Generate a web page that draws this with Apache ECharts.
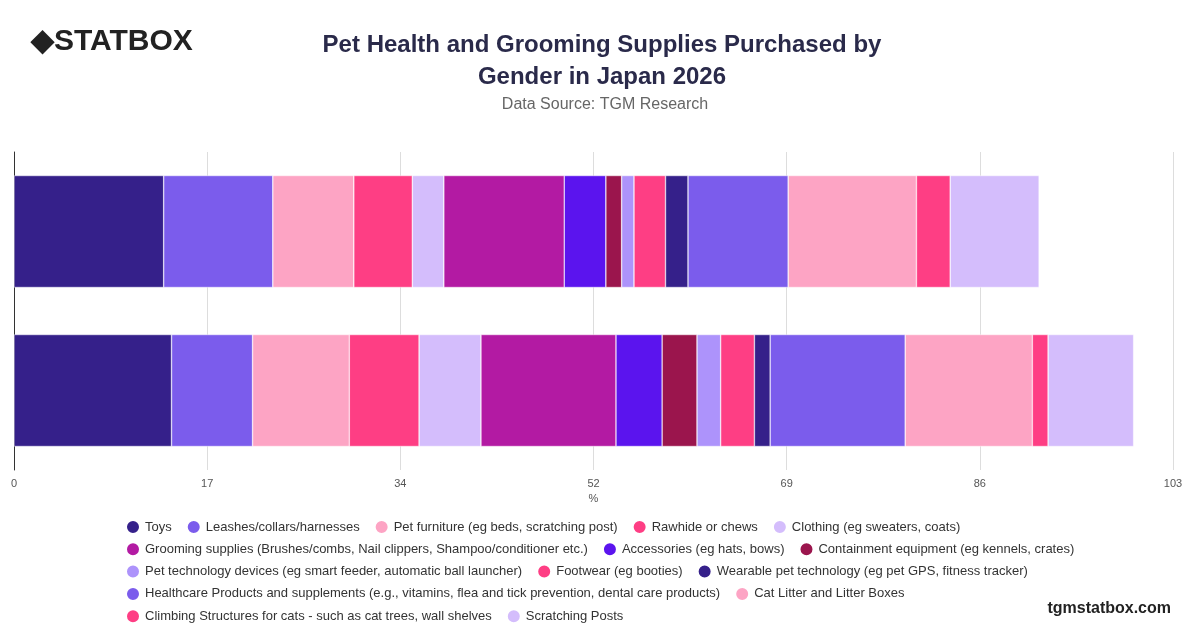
<!DOCTYPE html>
<html>
<head>
<meta charset="utf-8">
<script src="https://cdn.jsdelivr.net/npm/echarts@6/dist/echarts.min.js"></script>
<style>html,body{margin:0;padding:0;background:#fff}#main{width:1200px;height:628px}</style>
</head>
<body>
<div id="main"></div>
<script>
// two bars (top / bottom), no labels shown on the axis
var groups = ['Male', 'Female'];
var seriesNames = [
    'Toys', 'Leashes/collars/harnesses', 'Pet furniture (eg beds, scratching post)', 'Rawhide or chews',
    'Clothing (eg sweaters, coats)', 'Grooming supplies (Brushes/combs, Nail clippers, Shampoo/conditioner etc.)',
    'Accessories (eg hats, bows)', 'Containment equipment (eg kennels, crates)',
    'Pet technology devices (eg smart feeder, automatic ball launcher)', 'Footwear (eg booties)',
    'Wearable pet technology (eg pet GPS, fitness tracker)',
    'Healthcare Products and supplements (e.g., vitamins, flea and tick prevention, dental care products)',
    'Cat Litter and Litter Boxes', 'Climbing Structures for cats - such as cat trees, wall shelves', 'Scratching Posts'
];
var valuesTop    = [13.3, 9.7, 7.2, 5.2, 2.8, 10.7, 3.7, 1.4, 1.1, 2.8, 2.0, 8.9, 11.4, 3.0, 7.9];
var valuesBottom = [14.0, 7.2, 8.6, 6.2, 5.5, 12.0, 4.1, 3.1, 2.1, 3.0, 1.4, 12.0, 11.3, 1.4, 7.6];
var colors = ['#35208a', '#7b5cec', '#fda4c4', '#fe3e84', '#d4bdfc', '#b31aa3', '#5b14ee', '#9b154d',
              '#ad93fb', '#fe3e84', '#35208a', '#7b5cec', '#fda4c4', '#fe3e84', '#d4bdfc'];
var xMax = 103;
var xSteps = 6;

var chart = echarts.init(document.getElementById('main'));

var legendRows = [[0, 1, 2, 3, 4], [5, 6, 7], [8, 9, 10], [11, 12], [13, 14]];
var legends = legendRows.map(function (row, i) {
    return {
        left: 120, top: 514 + i * 22.3, itemWidth: 14, itemHeight: 14, icon: 'circle', itemGap: 14,
        textStyle: { fontSize: 13, color: '#333', fontFamily: 'Helvetica, Arial, sans-serif' },
        data: row.map(function (k) { return seriesNames[k]; })
    };
});

var series = seriesNames.map(function (n, i) {
    return {
        name: n, type: 'bar', stack: 'total', barWidth: 112,
        itemStyle: { color: colors[i], borderColor: '#fff', borderWidth: 0.5 },
        data: [valuesTop[i], valuesBottom[i]]
    };
});

chart.setOption({
    color: colors,
    title: [
        { text: 'Pet Health and Grooming Supplies Purchased by\nGender in Japan 2026', left: 597, top: 24, textAlign: 'center',
          textStyle: { fontSize: 24, fontWeight: 'bold', color: '#2a2a4a', lineHeight: 32, fontFamily: 'Helvetica, Arial, sans-serif' } },
        { text: 'Data Source: TGM Research', left: 600, top: 92, textAlign: 'center',
          textStyle: { fontSize: 16, fontWeight: 'normal', color: '#666', fontFamily: 'Helvetica, Arial, sans-serif' } },
        { text: '◆STATBOX', left: 26, top: 22, textStyle: { fontSize: 30, fontWeight: 'bold', color: '#222' } },
        { text: 'tgmstatbox.com', right: 24, top: 596, textStyle: { fontSize: 16, fontWeight: 'bold', color: '#222' } }
    ],
    legend: legends,
    tooltip: { trigger: 'axis' },
    grid: { left: 14, right: 27, top: 152, bottom: 158 },
    xAxis: {
        type: 'value', min: 0, max: xMax, interval: xMax / xSteps, name: '%', nameLocation: 'middle', nameGap: 22,
        nameTextStyle: { color: '#555', fontSize: 11 },
        axisLabel: { color: '#555', fontSize: 11, formatter: function (v) { return Math.round(v); } },
        splitLine: { lineStyle: { color: '#ddd' } },
        axisLine: { show: false }
    },
    yAxis: {
        type: 'category', data: groups, inverse: true,
        axisLabel: { show: false }, axisTick: { show: false },
        axisLine: { show: true, lineStyle: { color: '#333' } }
    },
    series: series
});
</script>
</body>
</html>
